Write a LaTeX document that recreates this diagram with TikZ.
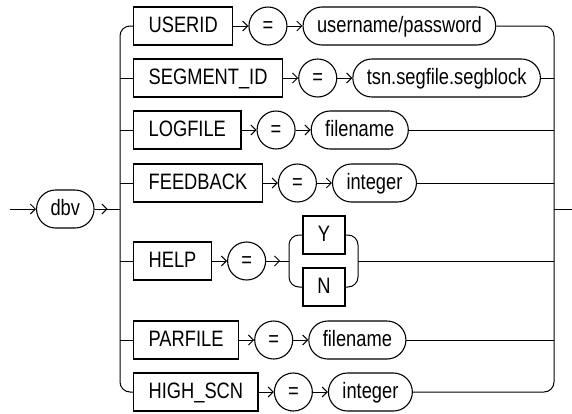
\documentclass[tikz,border=0pt]{standalone}
\usepackage{fontspec}
\setmainfont{Liberation Sans}[FakeStretch=0.82]
\usetikzlibrary{arrows.meta,positioning}

\begin{document}
\begin{tikzpicture}[
  x = 1pt, y = -1pt,
  every node/.style = {inner xsep=14.5pt, inner ysep=0pt, minimum height=38pt,
                       text height=16pt, text depth=3pt,
                       font=\fontsize{22.3pt}{26pt}\selectfont},
  keyword/.style    = {draw, line width=1.3pt, inner xsep=15pt},
  oper/.style       = {draw, circle, line width=1.1pt, inner sep=0pt, minimum size=38pt},
  param/.style      = {draw, rounded corners=19pt, line width=1.1pt, inner xsep=14pt},
  rail/.style       = {line width=1pt},
  flow/.style       = {rail, -{Straight Barb[length=5pt, width=10pt]}},
  node distance     = 15pt,
]
\useasboundingbox (0,0) rectangle (572,413);

% entry
\coordinate (start) at (10,209);
\node[param, anchor=west] (dbv) at (36,209) {dbv};
\coordinate (lrail) at (120,209);
\coordinate (rrail) at (554,209);
\coordinate (exit)  at (572,209);
% row 1
\node[keyword, anchor=west] (userid) at (133,26) {USERID};
\node[oper, right=of userid] (eq1) {=};
\node[param, right=of eq1] (userpw) {username/password};
% row 2
\node[keyword, anchor=west] (segid) at (133,78) {SEGMENT\_ID};
\node[oper, right=of segid] (eq2) {=};
\node[param, right=of eq2] (segblk) {tsn.segfile.segblock};
% row 3
\node[keyword, anchor=west] (logfile) at (133,130) {LOGFILE};
\node[oper, right=of logfile] (eq3) {=};
\node[param, right=of eq3] (logname) {filename};
% row 4
\node[keyword, anchor=west] (feedback) at (133,183) {FEEDBACK};
\node[oper, right=of feedback] (eq4) {=};
\node[param, right=of eq4] (fbint) {integer};
% row 5
\node[keyword, anchor=west] (help) at (133,261) {HELP};
\node[oper, right=of help] (eq5) {=};
\coordinate (ynl) at (289,261);
\coordinate (ynr) at (358,261);
\node[keyword, minimum width=42pt, inner xsep=0pt] (yes) at (324,235) {Y};
\node[keyword, minimum width=42pt, inner xsep=0pt] (no)  at (324,287) {N};
% row 6
\node[keyword, anchor=west] (parfile) at (133,340) {PARFILE};
\node[oper, right=of parfile] (eq6) {=};
\node[param, right=of eq6] (parname) {filename};
% row 7
\node[keyword, anchor=west] (highscn) at (133,392) {HIGH\_SCN};
\node[oper, right=of highscn] (eq7) {=};
\node[param, right=of eq7] (highint) {integer};

% rails
\draw[flow] (start) -- (dbv.west);
\draw[rail] (dbv.east) -- (lrail);
\draw[flow] (dbv.east) -- ++(13,0);
\draw[rail, rounded corners=10pt] (userid.west) -| (lrail) |- (highscn.west);
\draw[rail, rounded corners=10pt] (userpw.east) -| (rrail) |- (highint.east);
\draw[rail] (rrail) -- (exit);
\foreach \n in {segid, logfile, feedback, help, parfile}
  \draw[rail] (lrail |- \n.west) -- (\n.west);
\foreach \n in {segblk, logname, fbint, parname}
  \draw[rail] (\n.east) -- (\n.east -| rrail);
\foreach \a/\b in {userid/eq1, eq1/userpw, segid/eq2, eq2/segblk,
                   logfile/eq3, eq3/logname, feedback/eq4, eq4/fbint,
                   help/eq5, parfile/eq6, eq6/parname, highscn/eq7, eq7/highint}
  \draw[flow] (\a.east) -- (\b.west);

% Y / N choice
\draw[rail] (eq5.east) -- (ynl);
\draw[flow] (eq5.east) -- ++(14,0);
\draw[rail, rounded corners=10pt] (yes.west) -| (ynl) |- (no.west);
\draw[rail, rounded corners=10pt] (yes.east) -| (ynr) |- (no.east);
\draw[rail] (ynr) -- (ynr -| rrail);

\end{tikzpicture}
\end{document}
